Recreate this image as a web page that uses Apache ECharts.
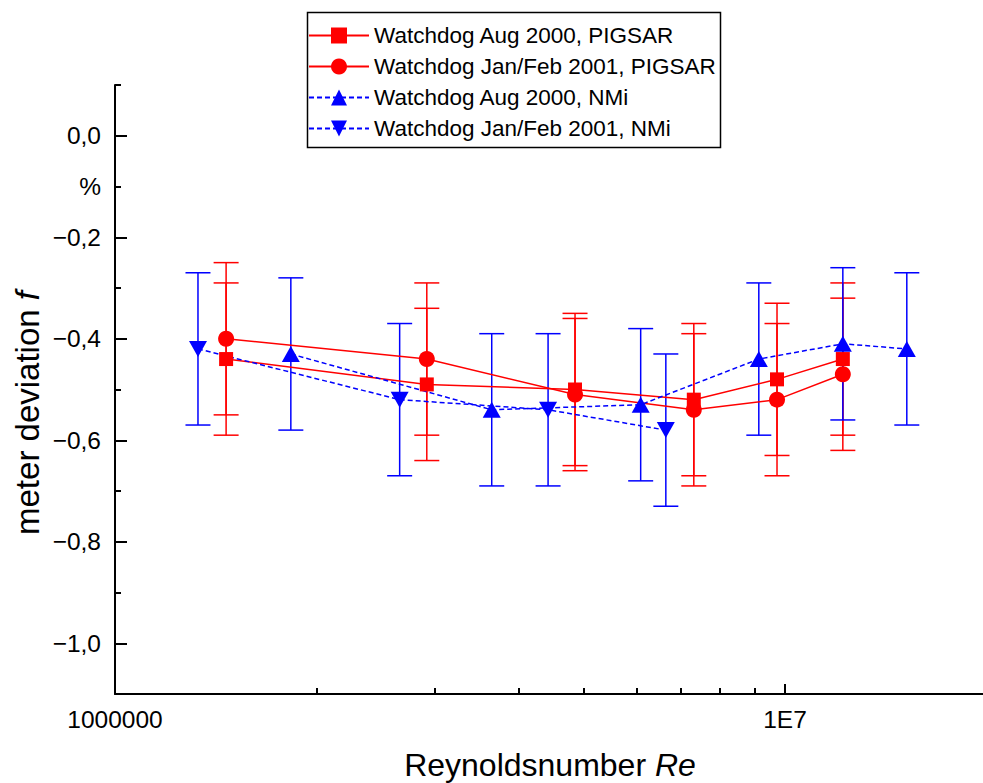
<!DOCTYPE html>
<html>
<head>
<meta charset="utf-8">
<script src="https://cdn.jsdelivr.net/npm/echarts@6/dist/echarts.min.js"></script>
<style>html,body{margin:0;padding:0;background:#fff;}#c{width:983px;height:783px;}</style>
</head>
<body>
<div id="c"></div>
<script>
// ---- data ----
const seriesNames = ['Watchdog Aug 2000, PIGSAR', 'Watchdog Jan/Feb 2001, PIGSAR', 'Watchdog Aug 2000, NMi', 'Watchdog Jan/Feb 2001, NMi'];
const pigsarRe = [1.465e6, 2.92e6, 4.86e6, 7.31e6, 9.73e6, 1.22e7];
const pigsarAug = [-0.44, -0.49, -0.50, -0.52, -0.48, -0.44];
const pigsarJan = [-0.40, -0.44, -0.51, -0.54, -0.52, -0.47];
const pigsarAugErr = [0.15, 0.15, 0.15, 0.15, 0.15, 0.15];
const pigsarJanErr = [0.15, 0.15, 0.15, 0.15, 0.15, 0.15];
const nmiAugRe = [1.83e6, 3.65e6, 6.09e6, 9.14e6, 1.22e7, 1.52e7];
const nmiAug = [-0.43, -0.54, -0.53, -0.44, -0.41, -0.42];
const nmiAugErr = [0.15, 0.15, 0.15, 0.15, 0.15, 0.15];
const nmiJanRe = [1.33e6, 2.66e6, 4.43e6, 6.64e6];
const nmiJan = [-0.42, -0.52, -0.54, -0.58];
const nmiJanErr = [0.15, 0.15, 0.15, 0.15];
const xMajorTicks = [1e6, 1e7];
const xMajorLabels = ['1000000', '1E7'];
const xMinorTicks = [2e6, 3e6, 4e6, 5e6, 6e6, 7e6, 8e6, 9e6];
const yMajorTicks = [0, -0.2, -0.4, -0.6, -0.8, -1.0];
const yMinorTicks = [0.1, -0.1, -0.3, -0.5, -0.7, -0.9, -1.1];
const yLabelValues = [0, -0.1, -0.2, -0.4, -0.6, -0.8, -1.0];
const yUnitLabel = '%';

const RED = '#ff0000', BLUE = '#0000ff';
const FONT = '"Liberation Sans", Arial, sans-serif';

function zip(xs, ys) { return xs.map((x, i) => [x, ys[i]]); }
function zip3(xs, ys, es) { return xs.map((x, i) => [x, ys[i], es[i]]); }

function errRender(color) {
  return function (params, api) {
    const x = api.value(0), y = api.value(1), e = api.value(2);
    const t = api.coord([x, y + e]);
    const b = api.coord([x, y - e]);
    const hw = 12.5;
    const st = { stroke: color, lineWidth: 1.5 };
    return {
      type: 'group',
      children: [
        { type: 'line', shape: { x1: t[0], y1: t[1], x2: b[0], y2: b[1] }, style: st },
        { type: 'line', shape: { x1: t[0] - hw, y1: t[1], x2: t[0] + hw, y2: t[1] }, style: st },
        { type: 'line', shape: { x1: b[0] - hw, y1: b[1], x2: b[0] + hw, y2: b[1] }, style: st }
      ]
    };
  };
}

function errSeries(name, data, color) {
  return {
    name: name, type: 'custom', xAxisIndex: 0, yAxisIndex: 0,
    renderItem: errRender(color), data: data, encode: { x: 0, y: 1 }, z: 1, silent: true
  };
}

function fmtY(v) {
  if (Math.abs(v + 0.1) < 1e-9) return yUnitLabel;
  if (Math.abs(v) < 1e-9) return '0,0';
  const s = Math.abs(v).toFixed(1).replace('.', ',');
  return v < 0 ? '\u2212' + s : s;
}

const chart = echarts.init(document.getElementById('c'), null, { renderer: 'svg' });
chart.setOption({
  animation: false,
  backgroundColor: '#ffffff',
  grid: { left: 115, top: 85, right: 0, bottom: 89, containLabel: false },
  xAxis: [
    {
      type: 'log', logBase: 10, min: 1e6, max: 1.975e7, position: 'bottom',
      axisLine: { show: true, onZero: false, lineStyle: { color: '#000', width: 2 } },
      axisTick: { show: true, inside: true, length: 10, customValues: xMajorTicks, lineStyle: { color: '#000', width: 2 } },
      axisLabel: {
        show: true, customValues: xMajorTicks, margin: 13, color: '#000', fontSize: 24.5, fontFamily: FONT,
        formatter: function (v) { const i = xMajorTicks.findIndex(t => Math.abs(t - v) / t < 1e-6); return i >= 0 ? xMajorLabels[i] : ''; }
      },
      splitLine: { show: false }, minorTick: { show: false }
    },
    {
      type: 'log', logBase: 10, min: 1e6, max: 1.975e7, position: 'bottom',
      axisLine: { show: false, onZero: false },
      axisTick: { show: true, inside: true, length: 6, customValues: xMinorTicks, lineStyle: { color: '#000', width: 2 } },
      axisLabel: { show: false }, splitLine: { show: false }
    }
  ],
  yAxis: [
    {
      type: 'value', min: -1.1, max: 0.1, interval: 0.1, position: 'left',
      axisLine: { show: true, onZero: false, lineStyle: { color: '#000', width: 2 } },
      axisTick: { show: true, inside: true, length: 12, customValues: yMajorTicks, lineStyle: { color: '#000', width: 2 } },
      axisLabel: { show: true, customValues: yLabelValues, margin: 14, color: '#000', fontSize: 24.5, fontFamily: FONT, formatter: fmtY },
      splitLine: { show: false }
    },
    {
      type: 'value', min: -1.1, max: 0.1, interval: 0.1, position: 'left', offset: 0,
      axisLine: { show: false, onZero: false },
      axisTick: { show: true, inside: true, length: 6, customValues: yMinorTicks, lineStyle: { color: '#000', width: 2 } },
      axisLabel: { show: false }, splitLine: { show: false }
    }
  ],
  legend: {
    data: seriesNames,
    orient: 'vertical', left: 308, top: 24, padding: 0,
    itemWidth: 60, itemHeight: 20, itemGap: 8,
    textStyle: { color: '#000', fontSize: 22.5, fontFamily: FONT, lineHeight: 22 }
  },
  graphic: [
    { type: 'rect', left: 305, top: 10, shape: { width: 413, height: 135 }, style: { fill: 'none', stroke: '#000', lineWidth: 1.5 }, z: 100 },
    {
      type: 'text', x: 550, y: 765,
      style: { text: 'Reynoldsnumber {i|Re}', fill: '#000', font: '32px ' + FONT, align: 'center', verticalAlign: 'middle',
        rich: { i: { fontStyle: 'italic', fontSize: 32, fontFamily: FONT, fill: '#000' } } }
    },
    {
      type: 'text', x: 27, y: 413, rotation: Math.PI / 2,
      style: { text: 'meter deviation {i|f}', fill: '#000', font: '33px ' + FONT, align: 'center', verticalAlign: 'middle',
        rich: { i: { fontStyle: 'italic', fontSize: 33, fontFamily: FONT, fill: '#000' } } }
    }
  ],
  series: [
    errSeries('err1', zip3(pigsarRe, pigsarAug, pigsarAugErr), RED),
    errSeries('err2', zip3(pigsarRe, pigsarJan, pigsarJanErr), RED),
    errSeries('err3', zip3(nmiAugRe, nmiAug, nmiAugErr), BLUE),
    errSeries('err4', zip3(nmiJanRe, nmiJan, nmiJanErr), BLUE),
    {
      name: seriesNames[0], type: 'line', data: zip(pigsarRe, pigsarAug), z: 3,
      symbol: 'rect', symbolSize: 14, color: RED, itemStyle: { color: RED },
      lineStyle: { color: RED, width: 1.5 }
    },
    {
      name: seriesNames[1], type: 'line', data: zip(pigsarRe, pigsarJan), z: 3,
      symbol: 'circle', symbolSize: 16, color: RED, itemStyle: { color: RED },
      lineStyle: { color: RED, width: 1.5 }
    },
    {
      name: seriesNames[2], type: 'line', data: zip(nmiAugRe, nmiAug), z: 3,
      symbol: 'triangle', symbolSize: [18, 16], color: BLUE, itemStyle: { color: BLUE },
      lineStyle: { color: BLUE, width: 1.5, type: [5, 3] }
    },
    {
      name: seriesNames[3], type: 'line', data: zip(nmiJanRe, nmiJan), z: 3,
      symbol: 'triangle', symbolRotate: 180, symbolSize: [18, 16], color: BLUE, itemStyle: { color: BLUE },
      lineStyle: { color: BLUE, width: 1.5, type: [5, 3] }
    }
  ]
});
</script>
</body>
</html>
